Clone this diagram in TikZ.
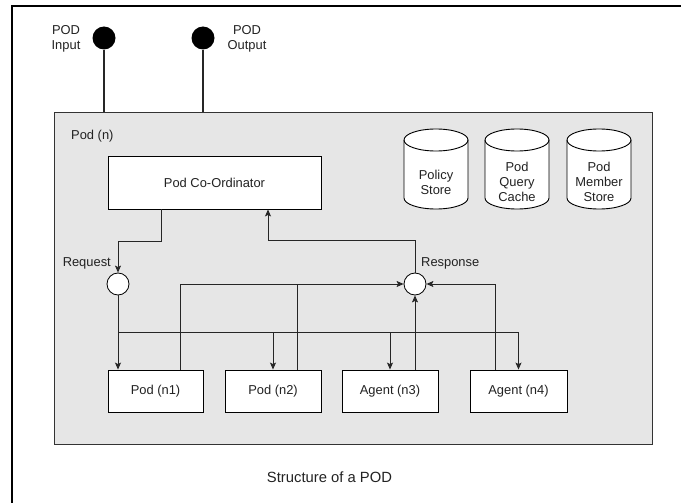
\documentclass[tikz,border=0pt]{standalone}
\usepackage{fontspec}
\setmainfont{Liberation Sans}
\usepackage{xcolor}
\usetikzlibrary{arrows.meta}

\definecolor{podgrey}{HTML}{E6E6E6}
\definecolor{inkgrey}{HTML}{222222}

\tikzset{
    lbl/.style={font=\fontsize{12.9}{15}\selectfont, text=inkgrey, inner sep=0pt},
    box/.style={draw=black, fill=white, line width=0.9pt, lbl, minimum height=42pt},
    drum/.style={draw=black, fill=white, line width=0.9pt},
    hub/.style={circle, draw=black, fill=white, line width=0.8pt, minimum size=22pt, inner sep=0pt},
    term/.style={circle, fill=black, minimum size=23pt, inner sep=0pt},
    wire/.style={line width=1.6pt, black!85},
    link/.style={line width=0.9pt, black!85},
    tip/.style={-{Stealth[length=7pt, width=6pt, inset=1.5pt]}}
}

\begin{document}
\begin{tikzpicture}[x=1pt, y=-1pt]
    \useasboundingbox (0,0) rectangle (681,503);
    \draw[line width=1.2pt] (12,503) -- (12,6) -- (681,6);

    \node[draw=black!80, fill=podgrey, line width=1pt, minimum width=598pt, minimum height=331pt] (pod) at (353,278.5) {};
    \node[lbl, anchor=west] (podname) at (71,136) {Pod (n)};

    % ports
    \node[term] (podin) at (104,38) {};
    \node[term] (podout) at (203,38) {};
    \draw[wire] (podin.south) -- (podin.south |- pod.north);
    \draw[wire] (podout.south) -- (podout.south |- pod.north);
    \node[lbl, align=center] (inlbl) at (66,39) {POD\\Input};
    \node[lbl, align=center] (outlbl) at (247,39) {POD\\Output};

    % stores
    \foreach \sx/\nm/\txt in {436/policy/{Policy\\Store}, 517/qcache/{Pod\\Query\\Cache}, 599/mstore/{Pod\\Member\\Store}} {
        \draw[drum] ({\sx-32},140) -- ({\sx-32},198) arc[start angle=180, end angle=360, x radius=32pt, y radius=11pt]
            -- ({\sx+32},140) arc[start angle=0, end angle=180, x radius=32pt, y radius=11pt] -- cycle;
        \draw[drum, fill=none] ({\sx-32},140) arc[start angle=180, end angle=360, x radius=32pt, y radius=11pt];
        \node[lbl, align=center] (\nm) at (\sx,182) {\txt};
    }

    \node[box, minimum width=213pt, minimum height=53pt] (coord) at (214.5,182.5) {Pod Co-Ordinator};

    \node[hub] (req) at (118,284) {};
    \node[hub] (resp) at (415,284) {};
    \node[lbl, anchor=east] (reqlbl) at (111,263) {Request};
    \node[lbl, anchor=west] (resplbl) at (421,263) {Response};

    \node[box, minimum width=95pt] (n1) at (155.5,391) {Pod (n1)};
    \node[box, minimum width=96pt] (n2) at (273,391) {Pod (n2)};
    \node[box, minimum width=96pt] (n3) at (390,391) {Agent (n3)};
    \node[box, minimum width=97pt] (n4) at (518.5,391) {Agent (n4)};

    % requests out
    \draw[link, tip] ([xshift=-53.5pt]coord.south) -- ++(0,32) -| (req.north);
    \draw[link, tip] (req.south) -- (req.south |- n1.north);
    \coordinate (bus) at (118,332);
    \draw[link, tip] (bus) -| (n2.north);
    \draw[link, tip] (bus) -| (n3.north);
    \draw[link, tip] (bus) -| (n4.north);

    % responses back
    \draw[link, tip] ([xshift=24.5pt]n1.north) |- (resp.west);
    \draw[link] ([xshift=24pt]n2.north) -- ++(0,-86);
    \draw[link, tip] (resp.south |- n3.north) -- (resp.south);
    \draw[link, tip] ([xshift=-23.5pt]n4.north) |- (resp.east);
    \draw[link, tip] (resp.north) -- ++(0,-32) -| ([xshift=53.5pt]coord.south);

    \node[font=\fontsize{14.8}{17}\selectfont, text=inkgrey] (caption) at (329.5,477) {Structure of a POD};
\end{tikzpicture}
\end{document}
